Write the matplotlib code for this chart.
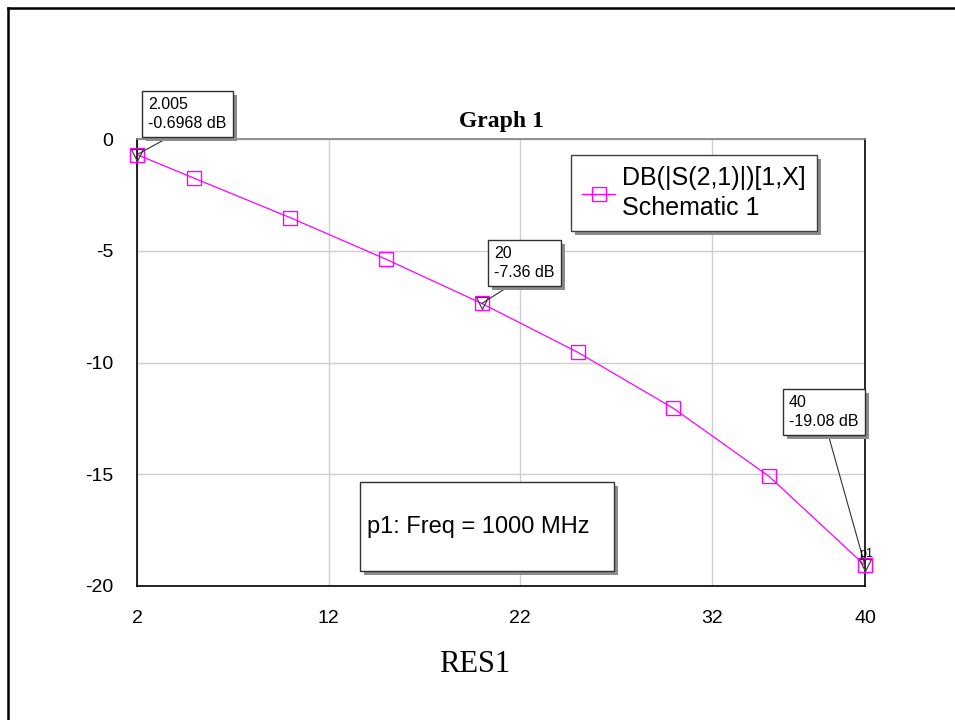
# ============================================================= #
#
# Graph 1 : S21 (dB) vs RES1 sweep, p1 at 1000 MHz
#
# ============================================================= #
#
# Libraries
import matplotlib as mpl
mpl.use('Agg')
#
import matplotlib.pyplot as plt
import matplotlib.patches as mpatches
import matplotlib.patheffects as pe
import numpy as np
#
# ============================================================= #
#
# Data
res1=[2,5,10,15,20,25,30,35,40]
s21_db=[-0.6968,-1.76,-3.52,-5.38,-7.36,-9.54,-12.05,-15.10,-19.08]

# Markers with readouts
mark_x=[2.005,20,40]
mark_y=[-0.6968,-7.36,-19.08]
mark_txt=['2.005\n-0.6968 dB','20\n-7.36 dB','40\n-19.08 dB']

xticks=[2,12,22,32,40]
yticks=[0,-5,-10,-15,-20]

trace_label='DB(|S(2,1)|)[1,X]\nSchematic 1'
note_txt='p1: Freq = 1000 MHz'

# Styles
magenta='#ff00ff'
sans='Liberation Sans'
serif='Liberation Serif'
W,H=955,720

# shadow for boxes
def shadowed() :
    return [pe.SimplePatchShadow(offset=(3,-3),shadow_rgbFace='#8c8c8c',alpha=1.0),pe.Normal()]

# pixels (from top-left) -> axes fraction
def px2ax(x,y) :
    return (x-137)/728.0, (586-y)/447.0

#
# ============================================================= #
#
# Main game
fig=plt.figure(figsize=(W/100.,H/100.),dpi=100)
ax=fig.add_axes([137/W,1-586/H,728/W,447/H])

# outer frame of the page
fig.add_artist(plt.Line2D([8/W,8/W],[0,1-8/H],transform=fig.transFigure,color='k',lw=1.8))
fig.add_artist(plt.Line2D([8/W,1],[1-8/H,1-8/H],transform=fig.transFigure,color='k',lw=1.8))

ax.plot(res1,s21_db,color=magenta,lw=0.9,marker='s',markersize=9.5,
        markerfacecolor='none',markeredgecolor=magenta,markeredgewidth=1.0,
        clip_on=False,label=trace_label,zorder=3)

ax.plot(mark_x,mark_y,linestyle='none',marker='v',markersize=9,markerfacecolor='none',
        markeredgecolor='#404040',markeredgewidth=0.9,clip_on=False,zorder=4)

ax.set_xlim(2,40)
ax.set_ylim(-20,0)
ax.set_xticks(xticks)
ax.set_yticks(yticks)
ax.set_xticklabels([str(t) for t in xticks],fontsize=14,family=sans)
ax.set_yticklabels([str(t) for t in yticks],fontsize=14,family=sans)
ax.tick_params(axis='both',length=0)
ax.tick_params(axis='x',pad=17)
ax.tick_params(axis='y',pad=17)
ax.grid(True,color='#cfcfcf',lw=1.0)
ax.set_axisbelow(True)

for s in ['left','bottom','right'] :
    ax.spines[s].set_color('k')
    ax.spines[s].set_linewidth(1.2)
ax.spines['top'].set_color('#808080')
ax.spines['top'].set_linewidth(1.2)

ax.set_title('Graph 1',fontsize=17,family=serif,fontweight='bold',pad=9)
ax.set_xlabel('RES1',fontsize=22,family=serif)
ax.xaxis.set_label_coords(*px2ax(475,650))
ax.xaxis.label.set_va('top')

# Legend
leg=ax.legend(loc='upper left',bbox_to_anchor=px2ax(571,155),prop={'family':sans,'size':18},
              frameon=True,fancybox=False,framealpha=1.0,facecolor='white',
              handlelength=1.3,handletextpad=0.3,labelspacing=0.6,
              borderpad=0.45,borderaxespad=0)
leg.get_frame().set_edgecolor('#404040')
leg.get_frame().set_linewidth(1.0)
leg.get_frame().set_path_effects(shadowed())
for t in leg.get_texts() :
    t.set_linespacing(1.3)

# Marker readouts
txt_pos=[(148,97),(494,246),(789,395)]
rel=[(0.42,0),(0.42,0),(0.54,0)]
for i in np.arange(len(mark_x)) :
    an=ax.annotate(mark_txt[i],xy=(mark_x[i],mark_y[i]),xytext=px2ax(*txt_pos[i]),
                   textcoords='axes fraction',ha='left',va='top',fontsize=11.5,family=sans,
                   linespacing=1.3,annotation_clip=False,
                   bbox=dict(boxstyle='square,pad=0.4',fc='white',ec='#303030',lw=1.0),
                   arrowprops=dict(arrowstyle='-',color='#303030',lw=0.8,relpos=rel[i],
                                   shrinkA=0,shrinkB=0),zorder=5)
    an.get_bbox_patch().set_path_effects(shadowed())

ax.annotate('p1',xy=(40,-19.08),xytext=(-4,4),textcoords='offset points',
            fontsize=9,family=sans,ha='left',va='bottom',annotation_clip=False,zorder=6)

# Frequency note box
x0,y0=px2ax(360,571)
x1,y1=px2ax(614,482)
box=mpatches.Rectangle((x0,y0),x1-x0,y1-y0,transform=ax.transAxes,fc='white',
                       ec='#303030',lw=1.0,zorder=5)
box.set_path_effects(shadowed())
ax.add_patch(box)
ax.text(*px2ax(367,527),note_txt,transform=ax.transAxes,fontsize=17,family=sans,
        ha='left',va='center',zorder=6)

fig.savefig('out.png',dpi=100,facecolor='white')
plt.close()

#
# ============================================================= #
